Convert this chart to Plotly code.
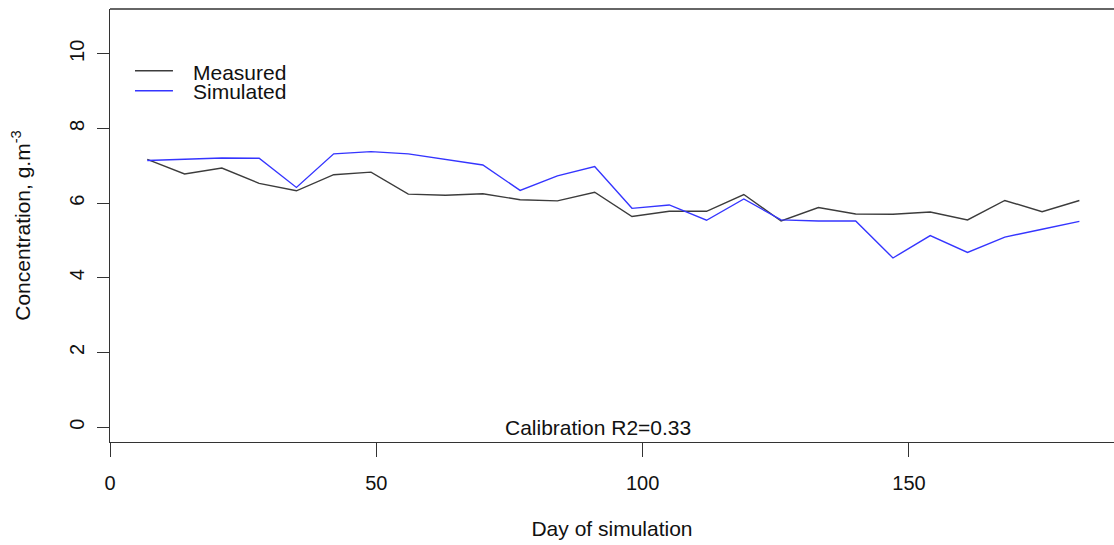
import plotly.graph_objects as go

days = [7, 14, 21, 28, 35, 42, 49, 56, 63, 70, 77, 84, 91, 98, 105, 112, 119, 126,
        133, 140, 147, 154, 161, 168, 175, 182]
measured = [7.17, 6.78, 6.94, 6.53, 6.33, 6.76, 6.83, 6.24, 6.21, 6.25, 6.09, 6.06, 6.29,
            5.64, 5.78, 5.78, 6.23, 5.52, 5.88, 5.71, 5.70, 5.76, 5.55, 6.07, 5.77, 6.07]
simulated = [7.14, 7.18, 7.21, 7.20, 6.42, 7.32, 7.38, 7.32, 7.18, 7.02, 6.34, 6.73, 6.98,
             5.86, 5.95, 5.54, 6.11, 5.55, 5.52, 5.52, 4.53, 5.13, 4.68, 5.09, 5.30, 5.51]

x_ticks = [0, 50, 100, 150]
y_ticks = [0, 2, 4, 6, 8, 10]
series_names = ["Measured", "Simulated"]
series_colors = ["#3c3c3c", "#3535ff"]

FONT = "Liberation Sans, Arial, sans-serif"
AX = "#333333"
TXT = "#111111"

fig = go.Figure()
for name, vals, col in zip(series_names, [measured, simulated], series_colors):
    fig.add_trace(go.Scatter(x=days, y=vals, mode="lines", name=name,
                             line=dict(color=col, width=1.4), showlegend=False))

# R-style legend (no box): short line samples + labels
leg_line_y = [0.8575, 0.8113]
leg_text_y = [0.8545, 0.8095]
for name, col, ly, ty in zip(series_names, series_colors, leg_line_y, leg_text_y):
    fig.add_shape(type="line", xref="paper", yref="paper", x0=0.0249, x1=0.0627,
                  y0=ly, y1=ly, line=dict(color=col, width=1.4))
    fig.add_annotation(xref="paper", yref="paper", x=0.0805, y=ty, text=name,
                       showarrow=False, xanchor="left", yanchor="middle",
                       font=dict(family=FONT, size=21, color=TXT))

fig.add_annotation(x=91.6, y=0, text="Calibration R2=0.33", showarrow=False,
                   xanchor="center", yanchor="middle",
                   font=dict(family=FONT, size=21, color=TXT))

fig.add_shape(type="line", xref="paper", yref="paper", x0=0, x1=1, y0=1, y1=1,
              line=dict(color=AX, width=1.3))

fig.update_layout(
    width=1114, height=545,
    margin=dict(l=110, r=0, t=9, b=103),
    paper_bgcolor="white", plot_bgcolor="white",
    font=dict(family=FONT, size=20, color=TXT),
    showlegend=False,
    xaxis=dict(range=[0, 188.5], tickvals=x_ticks, ticktext=[str(v) for v in x_ticks],
               showgrid=False, zeroline=False, showline=True, linecolor=AX, linewidth=1.3,
               ticks="outside", ticklen=14, tickcolor=AX, tickwidth=1.2, automargin=False,
               ticklabelstandoff=9, tickfont=dict(size=20),
               title=dict(text="Day of simulation", standoff=28, font=dict(size=21))),
    yaxis=dict(range=[-0.4, 11.2], tickvals=y_ticks, ticktext=[str(v) for v in y_ticks],
               showgrid=False, zeroline=False, showline=True, linecolor=AX, linewidth=1.3,
               ticks="outside", ticklen=12, tickcolor=AX, tickwidth=1.2, tickangle=-90,
               automargin=False, ticklabelstandoff=5, tickfont=dict(size=20),
               title=dict(text="Concentration, g.m<sup>-3</sup>", standoff=29,
                          font=dict(size=21))),
)

fig.write_html(
    "out.html",
    config={"displayModeBar": False},
    post_script="document.body.style.margin='0';"
                "document.documentElement.style.overflow='hidden';"
                "document.body.style.overflow='hidden';",
)
